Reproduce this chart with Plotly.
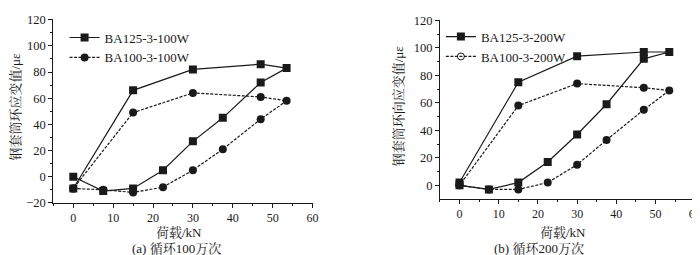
import plotly.graph_objects as go

# Left panel: 100万次
x_a = [0, 7.5, 15, 22.5, 30, 37.5, 47, 53.5, 47, 30, 15, 0]
sq_a = [0, -11, -9, 5, 27, 45, 72, 83, 86, 82, 66, -9]
ci_a = [-9, -10, -12, -8, 5, 21, 44, 58, 61, 64, 49, -9]
# Right panel: 200万次
x_b = [0, 7.5, 15, 22.5, 30, 37.5, 47, 53.5, 47, 30, 15, 0]
sq_b = [0, -3, 2, 17, 37, 59, 92, 97, 97, 94, 75, 2]
ci_b = [0, -3, -3, 2, 15, 33, 55, 69, 71, 74, 58, 0]

names_a = ["BA125-3-100W", "BA100-3-100W"]
names_b = ["BA125-3-200W", "BA100-3-200W"]

FONT = "Liberation Serif, Times New Roman, serif"
CJK = "Liberation Serif, Noto Serif CJK SC, Noto Sans CJK SC, serif"
INK = "#1a1a1a"

fig = go.Figure()

solid = dict(color=INK, width=1.2)
dotted = dict(color=INK, width=1.2, dash="3px,1.5px")

fig.add_trace(go.Scatter(x=x_a, y=sq_a, mode="lines+markers", name=names_a[0],
                         line=solid, marker=dict(symbol="square", size=8, color=INK),
                         xaxis="x", yaxis="y", legend="legend"))
fig.add_trace(go.Scatter(x=x_a, y=ci_a, mode="lines+markers", name=names_a[1],
                         line=dotted, marker=dict(symbol="circle", size=8, color=INK),
                         xaxis="x", yaxis="y", legend="legend"))

fig.add_trace(go.Scatter(x=x_b, y=sq_b, mode="lines+markers", name=names_b[0],
                         line=solid, marker=dict(symbol="square", size=8, color=INK),
                         xaxis="x2", yaxis="y2", legend="legend2"))
fig.add_trace(go.Scatter(x=x_b, y=ci_b, mode="lines+markers", name=names_b[1],
                         line=dotted, marker=dict(symbol="circle", size=8, color=INK),
                         xaxis="x2", yaxis="y2", showlegend=False))
# legend entry drawn with open circle, as in the original
fig.add_trace(go.Scatter(x=[None], y=[None], mode="lines+markers", name=names_b[1],
                         line=dotted, marker=dict(symbol="circle-open", size=7, color=INK, line=dict(width=1)),
                         xaxis="x2", yaxis="y2", legend="legend2"))

def xax(domain, anchor):
    return dict(domain=domain, anchor=anchor, range=[-5, 60.2], tickmode="array",
                tickvals=[0, 10, 20, 30, 40, 50, 60], ticks="outside", ticklen=4,
                tickwidth=1, tickcolor=INK, showline=True, linecolor=INK, linewidth=1,
                showgrid=False, zeroline=False, ticklabeloverflow="allow",
                minor=dict(tickvals=[-5, 5, 15, 25, 35, 45, 55], ticks="outside", ticklen=2, tickcolor=INK),
                tickfont=dict(family=FONT, size=12, color=INK))

def yax(domain, anchor, rng, vals):
    minors = [v + 10 for v in vals[:-1]]
    return dict(domain=domain, anchor=anchor, range=rng, tickmode="array", tickvals=vals,
                ticks="outside", ticklen=4, tickwidth=1, tickcolor=INK, showline=True,
                linecolor=INK, linewidth=1, showgrid=False, zeroline=False, ticklabeloverflow="allow",
                minor=dict(tickvals=minors, ticks="outside", ticklen=2, tickcolor=INK),
                tickfont=dict(family=FONT, size=12.5, color=INK))

H = 255
fig.update_layout(
    width=700, height=255,
    margin=dict(l=0, r=0, t=0, b=0),
    paper_bgcolor="white", plot_bgcolor="white",
    xaxis=xax([45.7 / 700, 307.5 / 700], "y"),
    yaxis=yax([1 - 199 / H, 1 - 5.6 / H], "x", [-20, 120.3], [-20, 0, 20, 40, 60, 80, 100, 120]),
    xaxis2=xax([435 / 700, 692.5 / 700], "y2"),
    yaxis2=yax([1 - 195 / H, 1 - 6.3 / H], "x2", [-10, 120.3], [0, 20, 40, 60, 80, 100, 120]),
    legend=dict(x=57 / 700, y=1 - 9 / H, xanchor="left", yanchor="top",
                bgcolor="rgba(0,0,0,0)", font=dict(family=FONT, size=13, color=INK),
                tracegroupgap=0, itemwidth=30),
    legend2=dict(x=436 / 700, y=1 - 8 / H, xanchor="left", yanchor="top",
                 bgcolor="rgba(0,0,0,0)", font=dict(family=FONT, size=13, color=INK),
                 tracegroupgap=0, itemwidth=30),
    showlegend=True,
)

ann_font = dict(family=CJK, size=13, color=INK)
anns = [
    dict(text="荷载/kN", x=172 / 700, y=1 - 230 / H),
    dict(text="(a) 循环100万次", x=170 / 700, y=1 - 247 / H),
    dict(text="荷载/kN", x=559 / 700, y=1 - 230 / H),
    dict(text="(b) 循环200万次", x=535 / 700, y=1 - 247 / H),
]
for a in anns:
    fig.add_annotation(text=a["text"], x=a["x"], y=a["y"], xref="paper", yref="paper",
                       showarrow=False, font=ann_font, xanchor="center", yanchor="middle")
fig.add_annotation(text="钢套筒环应变值/με", x=7.5 / 700, y=1 - 97 / H, xref="paper", yref="paper",
                   showarrow=False, textangle=-90, font=ann_font, xanchor="center", yanchor="middle")
fig.add_annotation(text="钢套筒环向应变值/με", x=393 / 700, y=1 - 97 / H, xref="paper", yref="paper",
                   showarrow=False, textangle=-90, font=ann_font, xanchor="center", yanchor="middle")

fig.write_html("out.html")
